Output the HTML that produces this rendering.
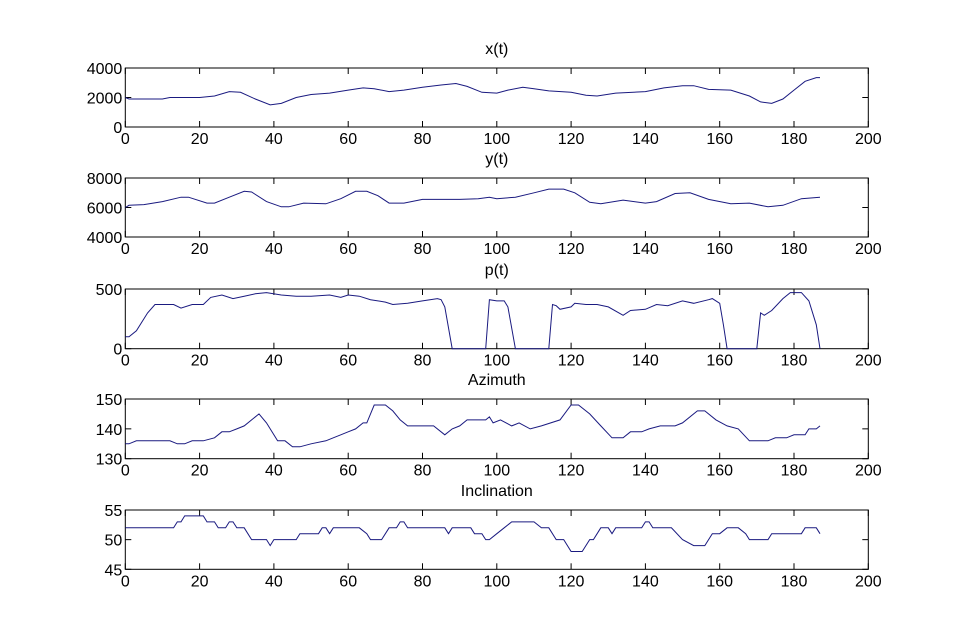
<!DOCTYPE html>
<html><head><meta charset="utf-8"><style>
body{margin:0;background:#fff}
svg{display:block;font-family:"Liberation Sans",Arial,sans-serif}
</style></head><body>
<svg id="s" width="960" height="641" xmlns="http://www.w3.org/2000/svg"></svg>
<script>
const S=document.getElementById('s');
const L=125.3,R=868.3,W=R-L;
const panels=[
{t:'x(t)',top:68,bot:127,min:0,max:4000,yt:[0,2000,4000],d:[[0,2000],[1,1900],[10,1900],[12,2000],[20,2000],[24,2100],[28,2400],[31,2350],[35,1900],[39,1500],[42,1600],[46,2000],[50,2200],[55,2300],[60,2500],[64,2650],[67,2600],[71,2400],[75,2500],[80,2700],[85,2850],[89,2950],[92,2750],[96,2350],[100,2300],[103,2500],[107,2700],[110,2600],[114,2450],[120,2350],[124,2150],[127,2100],[132,2300],[140,2400],[145,2650],[150,2800],[153,2800],[157,2550],[163,2500],[168,2100],[171,1700],[174,1600],[177,1900],[180,2500],[183,3100],[186,3350],[187,3350]]},
{t:'y(t)',top:178,bot:237,min:4000,max:8000,yt:[4000,6000,8000],d:[[0,6000],[1,6150],[5,6200],[10,6400],[15,6700],[17,6700],[22,6300],[24,6300],[28,6700],[32,7100],[34,7050],[38,6400],[42,6050],[44,6050],[48,6300],[54,6250],[58,6600],[62,7100],[65,7100],[68,6800],[71,6300],[75,6300],[80,6550],[85,6550],[90,6550],[95,6600],[98,6700],[100,6600],[105,6700],[110,7000],[114,7250],[118,7250],[121,7000],[125,6350],[128,6250],[134,6500],[140,6300],[143,6400],[148,6950],[152,7000],[157,6550],[163,6250],[168,6300],[173,6050],[177,6150],[182,6600],[187,6700]]},
{t:'p(t)',top:289,bot:348.7,min:0,max:500,yt:[0,500],d:[[0,100],[1,100],[3,150],[6,300],[8,370],[11,370],[13,370],[15,340],[18,370],[21,370],[23,430],[26,450],[29,420],[32,440],[35,460],[38,470],[42,450],[46,440],[50,440],[55,450],[58,430],[60,450],[63,440],[66,410],[70,390],[72,370],[76,380],[80,400],[84,420],[85,410],[86,350],[88,0],[97,0],[98,410],[100,400],[102,400],[103,350],[105,0],[114,0],[115,370],[116,360],[117,330],[120,350],[121,380],[124,370],[127,370],[130,350],[134,280],[136,320],[140,330],[143,370],[146,360],[150,400],[153,380],[157,410],[158,420],[160,380],[161,200],[162,0],[170,0],[171,300],[172,280],[174,320],[177,420],[179,470],[182,470],[184,400],[186,200],[187,0]]},
{t:'Azimuth',top:399,bot:458.7,min:130,max:150,yt:[130,140,150],d:[[0,135],[1,135],[3,136],[12,136],[14,135],[16,135],[18,136],[21,136],[24,137],[26,139],[28,139],[30,140],[32,141],[34,143],[36,145],[38,142],[41,136],[43,136],[45,134],[47,134],[50,135],[54,136],[56,137],[58,138],[60,139],[62,140],[64,142],[65,142],[67,148],[70,148],[72,146],[74,143],[76,141],[83,141],[86,138],[88,140],[90,141],[92,143],[97,143],[98,144],[99,142],[101,143],[104,141],[106,142],[109,140],[112,141],[117,143],[120,148],[122,148],[125,145],[128,141],[131,137],[134,137],[136,139],[139,139],[141,140],[144,141],[148,141],[150,142],[154,146],[156,146],[159,143],[162,141],[165,140],[168,136],[173,136],[175,137],[178,137],[180,138],[183,138],[184,140],[186,140],[187,141]]},
{t:'Inclination',top:510,bot:569.3,min:45,max:55,yt:[45,50,55],d:[[0,52],[13,52],[14,53],[15,53],[16,54],[21,54],[22,53],[24,53],[25,52],[27,52],[28,53],[29,53],[30,52],[32,52],[34,50],[38,50],[39,49],[40,50],[46,50],[47,51],[52,51],[53,52],[54,52],[55,51],[56,52],[63,52],[65,51],[66,50],[69,50],[71,52],[73,52],[74,53],[75,53],[76,52],[86,52],[87,51],[88,52],[93,52],[94,51],[96,51],[97,50],[98,50],[100,51],[102,52],[104,53],[110,53],[112,52],[114,52],[116,50],[118,50],[120,48],[123,48],[125,50],[126,50],[128,52],[130,52],[131,51],[132,52],[139,52],[140,53],[141,53],[142,52],[147,52],[150,50],[153,49],[156,49],[158,51],[160,51],[162,52],[165,52],[167,51],[168,50],[173,50],[174,51],[182,51],[183,52],[186,52],[187,51]]}
];
let h='';
for(const p of panels){
 const H=p.bot-p.top;
 const X=t=>L+t/200*W, Y=v=>p.bot-(v-p.min)/(p.max-p.min)*H;
 h+=`<text x="${(L+R)/2}" y="${p.top-14}" font-size="16" text-anchor="middle">${p.t}</text>`;
 h+=`<rect x="${L}" y="${p.top}" width="${W}" height="${H}" fill="none" stroke="#000" stroke-width="1"/>`;
 for(let t=0;t<=200;t+=20){const x=X(t);
  h+=`<line x1="${x}" y1="${p.bot}" x2="${x}" y2="${p.bot-6}" stroke="#000"/><line x1="${x}" y1="${p.top}" x2="${x}" y2="${p.top+6}" stroke="#000"/>`;
  h+=`<text x="${x}" y="${p.bot+17}" font-size="16" text-anchor="middle">${t}</text>`;}
 for(const v of p.yt){const y=Y(v);
  h+=`<line x1="${L}" y1="${y}" x2="${L+6}" y2="${y}" stroke="#000"/><line x1="${R}" y1="${y}" x2="${R-6}" y2="${y}" stroke="#000"/>`;
  h+=`<text x="${L-3}" y="${y+6}" font-size="16" text-anchor="end">${v}</text>`;}
 h+=`<polyline fill="none" stroke="#1a1a80" stroke-width="1" points="${p.d.map(a=>X(a[0]).toFixed(1)+','+Y(a[1]).toFixed(1)).join(' ')}"/>`;
}
S.innerHTML=h;
</script>
</body></html>
